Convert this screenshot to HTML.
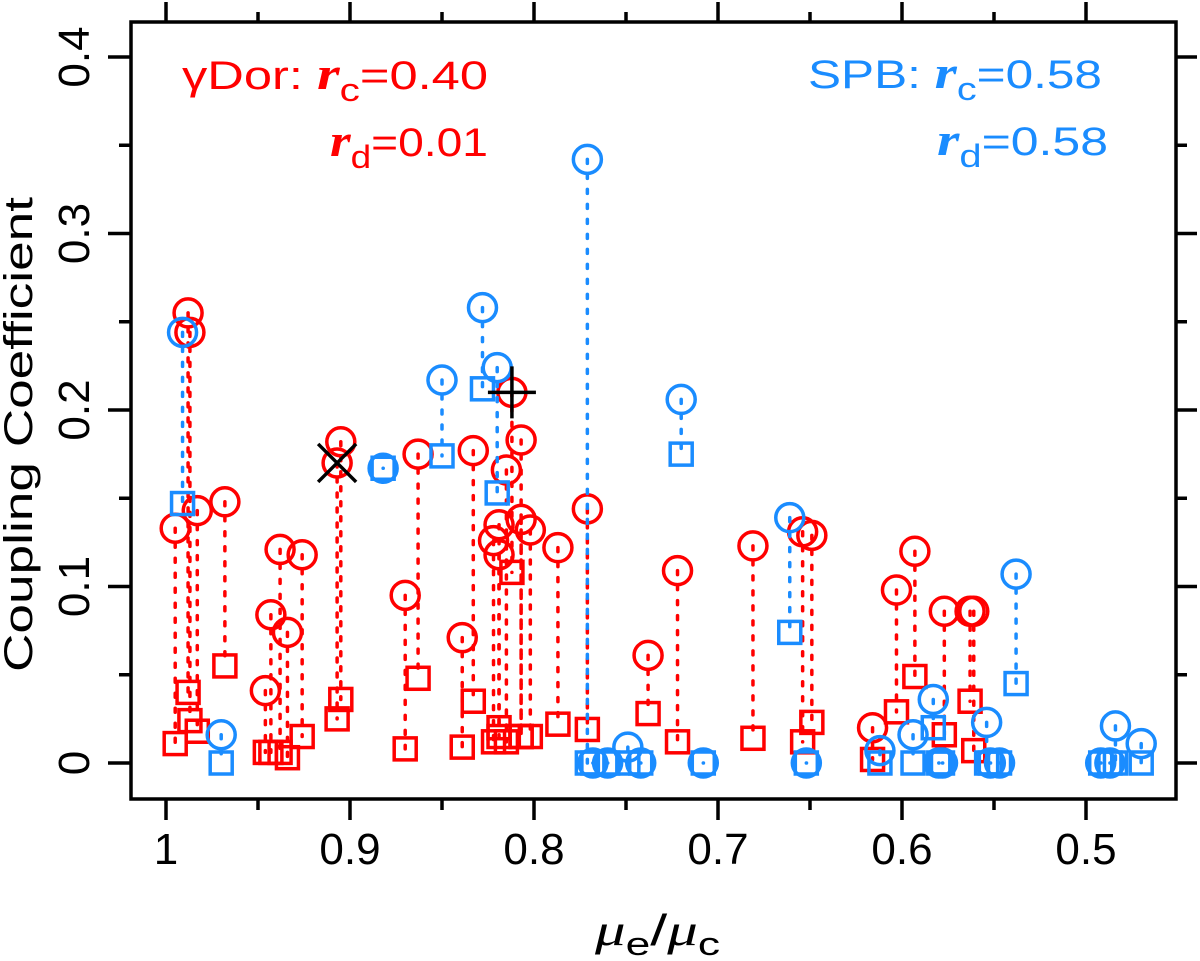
<!DOCTYPE html>
<html><head><meta charset="utf-8"><style>
html,body{margin:0;padding:0;background:#fff;}
svg{display:block;font-family:"Liberation Sans",sans-serif;}
</style></head><body>
<svg id="chart" width="1200" height="961" viewBox="0 0 1200 961" xmlns="http://www.w3.org/2000/svg">
<g id="marks"></g>
<g id="axes"></g>
<text x="182" y="89" font-size="40" fill="#ff0000" textLength="306" lengthAdjust="spacingAndGlyphs">γDor: <tspan font-family="Liberation Serif" font-style="italic" font-weight="bold" font-size="46">r</tspan><tspan font-size="32" dy="12">c</tspan><tspan dy="-12">=0.40</tspan></text>
<text x="330" y="156" font-size="40" fill="#ff0000" textLength="158" lengthAdjust="spacingAndGlyphs"><tspan font-family="Liberation Serif" font-style="italic" font-weight="bold" font-size="46">r</tspan><tspan font-size="32" dy="12">d</tspan><tspan dy="-12">=0.01</tspan></text>
<text x="808" y="88" font-size="40" fill="#1a8cff" textLength="294" lengthAdjust="spacingAndGlyphs">SPB: <tspan font-family="Liberation Serif" font-style="italic" font-weight="bold" font-size="46">r</tspan><tspan font-size="32" dy="12">c</tspan><tspan dy="-12">=0.58</tspan></text>
<text x="937" y="155" font-size="40" fill="#1a8cff" textLength="171" lengthAdjust="spacingAndGlyphs"><tspan font-family="Liberation Serif" font-style="italic" font-weight="bold" font-size="46">r</tspan><tspan font-size="32" dy="12">d</tspan><tspan dy="-12">=0.58</tspan></text>
<text x="595" y="945" font-size="44" textLength="125" lengthAdjust="spacingAndGlyphs"><tspan font-family="Liberation Serif" font-style="italic">μ</tspan><tspan font-size="32" dy="10">e</tspan><tspan dy="-10">/</tspan><tspan font-family="Liberation Serif" font-style="italic">μ</tspan><tspan font-size="32" dy="10">c</tspan></text>
<text transform="translate(32,435) rotate(-90)" x="-237" y="0" font-size="40" textLength="475" lengthAdjust="spacingAndGlyphs">Coupling Coefficient</text>
</svg>
<script>
const redX=[0.988,0.987,0.995,0.983,0.968,0.938,0.926,0.943,0.934,0.946,0.905,0.907,0.863,0.870,0.833,0.839,0.812,0.807,0.815,0.819,0.822,0.819,0.807,0.802,0.787,0.771,0.738,0.722,0.681,0.654,0.649,0.616,0.603,0.593,0.577,0.563,0.561];
const redCoup=[0.255,0.244,0.133,0.143,0.148,0.121,0.118,0.084,0.074,0.041,0.182,0.170,0.175,0.095,0.177,0.071,0.210,0.183,0.166,0.135,0.126,0.118,0.138,0.132,0.122,0.144,0.061,0.109,0.123,0.131,0.129,0.020,0.098,0.120,0.086,0.086,0.086];
const redLow=[0.040,0.024,0.011,0.018,0.055,0.006,0.015,0.006,0.003,0.006,0.036,0.025,0.048,0.008,0.035,0.009,0.108,0.015,0.012,0.020,0.012,0.015,0.015,0.015,0.022,0.019,0.028,0.012,0.014,0.012,0.023,0.002,0.029,0.049,0.016,0.035,0.007];
const blueX=[0.991,0.970,0.882,0.828,0.820,0.850,0.771,0.720,0.749,0.661,0.538,0.583,0.594,0.612,0.554,0.484,0.470,0.768,0.760,0.742,0.708,0.652,0.578,0.580,0.552,0.547,0.492,0.487];
const blueCoup=[0.244,0.016,0.167,0.258,0.224,0.217,0.342,0.206,0.009,0.139,0.107,0.036,0.016,0.007,0.023,0.021,0.011,0,0,0,0,0,0,0,0,0,0,0];
const blueLow=[0.147,0,0.167,0.212,0.153,0.174,0,0.175,0,0.074,0.045,0.020,0,0,0,0,0,0,0,0,0,0,0,0,0,0,0,0];
const xTicks=[1,0.9,0.8,0.7,0.6,0.5];
const xTickLabels=["1","0.9","0.8","0.7","0.6","0.5"];
const yTicks=[0,0.1,0.2,0.3,0.4];
const yTickLabels=["0","0.1","0.2","0.3","0.4"];
const plusMark=[0.812,0.210];
const crossMark=[0.907,0.170];

const NS="http://www.w3.org/2000/svg";
const L=131,R=1176,T=22,B=799;
function xs(v){return 166+(1-v)*1840;}
function ys(v){return 763-v*1765;}
function mk(tag,attrs,parent){const e=document.createElementNS(NS,tag);for(const k in attrs)e.setAttribute(k,attrs[k]);parent.appendChild(e);return e;}
const marks=document.getElementById('marks');
const axes=document.getElementById('axes');

function series(X,C,Lw,color,name){
  for(let i=0;i<X.length;i++){
    const x=xs(X[i]);
    const ln=mk('line',{x1:x,y1:ys(C[i]),x2:x,y2:ys(Lw[i]),stroke:color,'stroke-width':3.5,'stroke-dasharray':'4 11','stroke-linecap':'round'},marks);
    
    
  }
  for(let i=0;i<X.length;i++){
    const x=xs(X[i]),y=ys(Lw[i]);
    const r=mk('rect',{x:x-11,y:y-11,width:22,height:22,fill:'none',stroke:color,'stroke-width':3.5},marks);
    
    
  }
  for(let i=0;i<X.length;i++){
    const c=mk('circle',{cx:xs(X[i]),cy:ys(C[i]),r:14,fill:'none',stroke:color,'stroke-width':3.5},marks);
    
    
  }
}
series(redX,redCoup,redLow,'#ff0000','gdor');
series(blueX,blueCoup,blueLow,'#1a8cff','spb');

{
  const px=xs(plusMark[0]),py=ys(plusMark[1]);
  const g=mk('path',{d:`M${px-24} ${py}H${px+24}M${px} ${py-26}V${py+26}`,stroke:'#000','stroke-width':3.5,fill:'none'},marks);
  
  
  const cx=xs(crossMark[0]),cy=ys(crossMark[1]);
  const h=mk('path',{d:`M${cx-19} ${cy-19}L${cx+19} ${cy+19}M${cx-19} ${cy+19}L${cx+19} ${cy-19}`,stroke:'#000','stroke-width':3.5,fill:'none'},marks);
  
  
}

const fr=mk('rect',{x:L,y:T,width:R-L,height:B-T,fill:'none',stroke:'#000','stroke-width':3.5},axes);


for(let i=0;i<xTicks.length;i++){
  const x=xs(xTicks[i]);
  const t=mk('path',{d:`M${x} ${B}V${B+21}M${x} ${T}V${T-20}`,stroke:'#000','stroke-width':3.5},axes);
  
  
  const lb=mk('text',{x:x,y:864,'text-anchor':'middle','font-size':44},axes);
  lb.textContent=xTickLabels[i];
  
  
  const mx=xs(xTicks[i]-0.05);
  if(mx<R){
    const m=mk('path',{d:`M${mx} ${B}V${B+11}M${mx} ${T}V${T-10}`,stroke:'#000','stroke-width':3.5},axes);
    
    
  }
}
for(let i=0;i<yTicks.length;i++){
  const y=ys(yTicks[i]);
  const t=mk('path',{d:`M${L} ${y}H${L-23}M${R} ${y}H${R+21}`,stroke:'#000','stroke-width':3.5},axes);
  
  
  const lb=mk('text',{transform:`translate(89,${y}) rotate(-90)`,'text-anchor':'middle','font-size':44},axes);
  lb.textContent=yTickLabels[i];
  
  
  const my=ys(yTicks[i]+0.05);
  if(my>T){
    const m=mk('path',{d:`M${L} ${my}H${L-12}M${R} ${my}H${R+11}`,stroke:'#000','stroke-width':3.5},axes);
    
    
  }
}
</script>
</body></html>
